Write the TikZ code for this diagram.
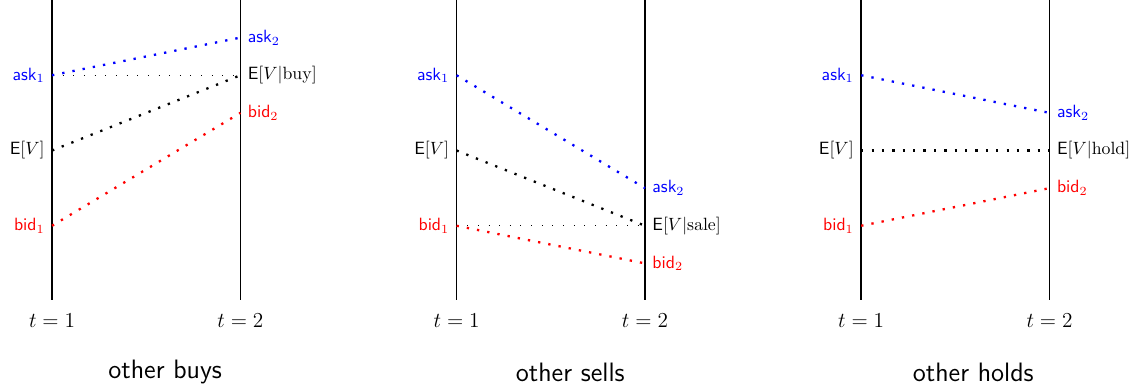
\documentclass[tikz,border=0pt]{standalone}
\usepackage{amsmath}
\usepackage{tikz}
\usetikzlibrary{positioning}

\begin{document}
\begin{tikzpicture}[
  timeline/.style={black, line width=0.8pt},
  move/.style={line width=1.3pt, dash pattern=on 1.3pt off 4.55pt},
  ref/.style={black, line width=0.4pt, dash pattern=on 0.4pt off 5.6pt},
  lbl/.style={font=\normalsize, inner sep=2.5pt},
  tlbl/.style={font=\fontsize{12.6}{15}\selectfont, inner sep=0pt},
  panelcap/.style={font=\fontsize{15}{18}\selectfont\sffamily},
]
  \useasboundingbox (0,0) rectangle (22.65,-7.74);

  % --- other buys ---
  \coordinate (btop1) at (1.03,0);
  \coordinate (bbot1) at (1.03,-5.94);
  \coordinate (btop2) at (4.76,0);
  \coordinate (bbot2) at (4.76,-5.94);
  \draw[timeline] (btop1) -- (bbot1);
  \draw[timeline] (btop2) -- (bbot2);
  \coordinate (bask1) at (1.03,-1.49);
  \coordinate (bev1) at (1.03,-2.98);
  \coordinate (bbid1) at (1.03,-4.47);
  \coordinate (bask2) at (4.76,-0.745);
  \coordinate (bev2) at (4.76,-1.49);
  \coordinate (bbid2) at (4.76,-2.235);
  \node[lbl, blue, left=1.5pt of bask1] (baskl1) {\textsf{ask}$_1$};
  \node[lbl, left=1.5pt of bev1] (bevl1) {\textsf{E}$[V]$};
  \node[lbl, red, left=1.5pt of bbid1] (bbidl1) {\textsf{bid}$_1$};
  \node[lbl, blue, right=1.5pt of bask2] (baskl2) {\textsf{ask}$_2$};
  \node[lbl, right=1.5pt of bev2] (bevl2) {\textsf{E}$[V|\mathrm{buy}]$};
  \node[lbl, red, right=1.5pt of bbid2] (bbidl2) {\textsf{bid}$_2$};
  \draw[ref] (bask1) -- (bev2);
  \draw[move, blue] (bask1) -- (bask2);
  \draw[move] (bev1) -- (bev2);
  \draw[move, red] (bbid1) -- (bbid2);
  \node[tlbl] (bt1) at (1.03,-6.34) {$t=1$};
  \node[tlbl] (bt2) at (4.76,-6.34) {$t=2$};
  \node[panelcap] (bcap) at (3.27,-7.37) {other buys};

  % --- other sells ---
  \coordinate (stop1) at (9.04,0);
  \coordinate (sbot1) at (9.04,-5.94);
  \coordinate (stop2) at (12.77,0);
  \coordinate (sbot2) at (12.77,-5.94);
  \draw[timeline] (stop1) -- (sbot1);
  \draw[timeline] (stop2) -- (sbot2);
  \coordinate (sask1) at (9.04,-1.49);
  \coordinate (sev1) at (9.04,-2.98);
  \coordinate (sbid1) at (9.04,-4.47);
  \coordinate (sask2) at (12.77,-3.725);
  \coordinate (sev2) at (12.77,-4.47);
  \coordinate (sbid2) at (12.77,-5.215);
  \node[lbl, blue, left=1.5pt of sask1] (saskl1) {\textsf{ask}$_1$};
  \node[lbl, left=1.5pt of sev1] (sevl1) {\textsf{E}$[V]$};
  \node[lbl, red, left=1.5pt of sbid1] (sbidl1) {\textsf{bid}$_1$};
  \node[lbl, blue, right=1.5pt of sask2] (saskl2) {\textsf{ask}$_2$};
  \node[lbl, right=1.5pt of sev2] (sevl2) {\textsf{E}$[V|\mathrm{sale}]$};
  \node[lbl, red, right=1.5pt of sbid2] (sbidl2) {\textsf{bid}$_2$};
  \draw[ref] (sbid1) -- (sev2);
  \draw[move, blue] (sask1) -- (sask2);
  \draw[move] (sev1) -- (sev2);
  \draw[move, red] (sbid1) -- (sbid2);
  \node[tlbl] (st1) at (9.04,-6.34) {$t=1$};
  \node[tlbl] (st2) at (12.77,-6.34) {$t=2$};
  \node[panelcap] (scap) at (11.29,-7.37) {other sells};

  % --- other holds ---
  \coordinate (htop1) at (17.05,0);
  \coordinate (hbot1) at (17.05,-5.94);
  \coordinate (htop2) at (20.78,0);
  \coordinate (hbot2) at (20.78,-5.94);
  \draw[timeline] (htop1) -- (hbot1);
  \draw[timeline] (htop2) -- (hbot2);
  \coordinate (hask1) at (17.05,-1.49);
  \coordinate (hev1) at (17.05,-2.98);
  \coordinate (hbid1) at (17.05,-4.47);
  \coordinate (hask2) at (20.78,-2.235);
  \coordinate (hev2) at (20.78,-2.98);
  \coordinate (hbid2) at (20.78,-3.725);
  \node[lbl, blue, left=1.5pt of hask1] (haskl1) {\textsf{ask}$_1$};
  \node[lbl, left=1.5pt of hev1] (hevl1) {\textsf{E}$[V]$};
  \node[lbl, red, left=1.5pt of hbid1] (hbidl1) {\textsf{bid}$_1$};
  \node[lbl, blue, right=1.5pt of hask2] (haskl2) {\textsf{ask}$_2$};
  \node[lbl, right=1.5pt of hev2] (hevl2) {\textsf{E}$[V|\mathrm{hold}]$};
  \node[lbl, red, right=1.5pt of hbid2] (hbidl2) {\textsf{bid}$_2$};
  \draw[move, blue] (hask1) -- (hask2);
  \draw[move] (hev1) -- (hev2);
  \draw[move, red] (hbid1) -- (hbid2);
  \node[tlbl] (ht1) at (17.05,-6.34) {$t=1$};
  \node[tlbl] (ht2) at (20.78,-6.34) {$t=2$};
  \node[panelcap] (hcap) at (19.27,-7.37) {other holds};
\end{tikzpicture}
\end{document}
